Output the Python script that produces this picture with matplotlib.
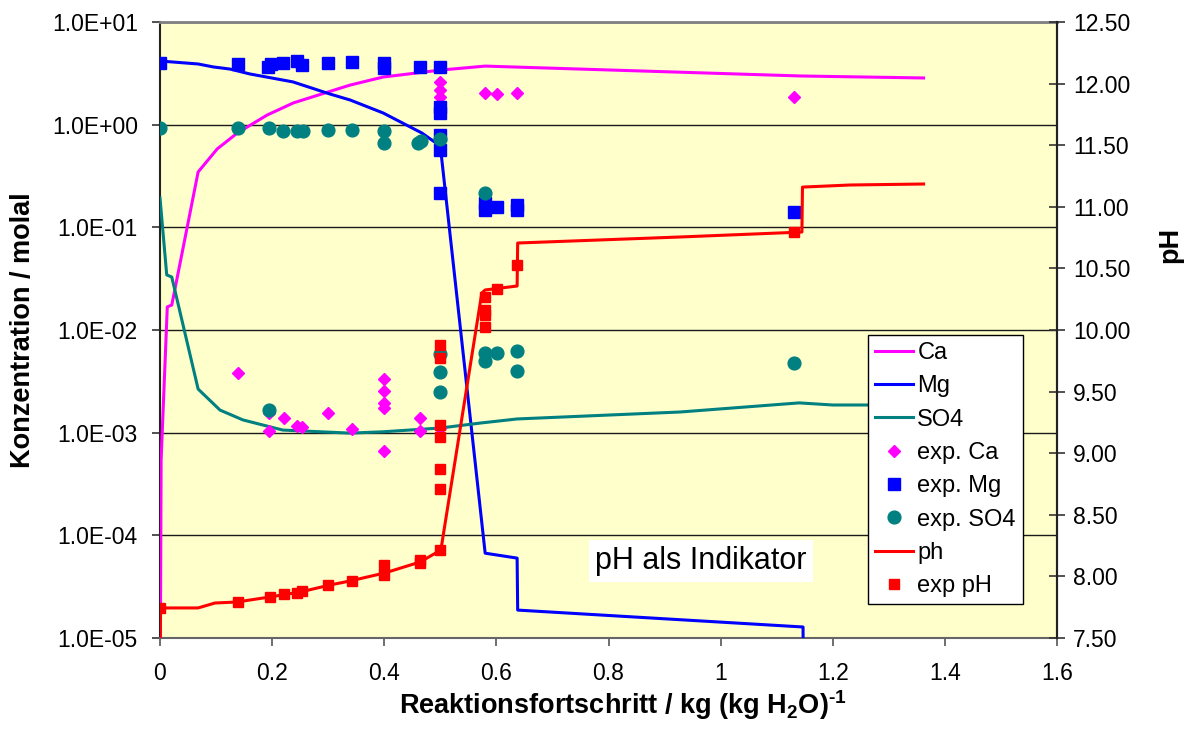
import matplotlib
matplotlib.use("Agg")
import matplotlib.pyplot as plt
from matplotlib.lines import Line2D
from matplotlib.ticker import FixedLocator, FuncFormatter, NullLocator

plt.rcParams["font.family"] = ["Liberation Sans", "DejaVu Sans"]
# math text (sub/superscripts in the x label) in bold Liberation Sans
plt.rcParams["mathtext.fontset"] = "custom"
plt.rcParams["mathtext.rm"] = "Liberation Sans:bold"
plt.rcParams["mathtext.bf"] = "Liberation Sans:bold"
plt.rcParams["mathtext.it"] = "Liberation Sans:bold:italic"

# --- model curves (concentration in mol/kg, left axis) ---
ca_x = [0.0, 0.002, 0.013, 0.021, 0.068, 0.102, 0.138, 0.191, 0.238, 0.339, 0.398, 0.50, 0.58, 1.143, 1.362]
ca_y = [1e-6, 5.4e-4, 0.0168, 0.0175, 0.346, 0.58, 0.83, 1.24, 1.63, 2.43, 2.91, 3.4, 3.72, 2.98, 2.85]

mg_x = [0.0, 0.068, 0.095, 0.125, 0.16, 0.237, 0.303, 0.339, 0.398, 0.467, 0.50, 0.58, 0.637, 0.638, 1.147, 1.148]
mg_y = [4.17, 3.90, 3.65, 3.48, 3.12, 2.61, 1.99, 1.74, 1.30, 0.83, 0.62, 6.7e-5, 6.0e-5, 1.87e-5, 1.28e-5, 1e-6]

so4_x = [0.0, 0.012, 0.021, 0.068, 0.107, 0.148, 0.219, 0.339, 0.398, 0.50, 0.571, 0.637, 0.928, 1.14, 1.20, 1.362]
so4_y = [0.193, 0.0344, 0.0328, 0.00266, 0.00166, 0.00133, 0.00106, 0.00099, 0.00102, 0.00111,
         0.00124, 0.00136, 0.00159, 0.00195, 0.00186, 0.00186]

# --- model pH (right axis) ---
ph_x = [0.0, 0.001, 0.068, 0.098, 0.137, 0.196, 0.25, 0.303, 0.339, 0.401, 0.464, 0.501,
        0.574, 0.58, 0.637, 0.638, 0.928, 1.145, 1.146, 1.231, 1.362]
ph_y = [7.3, 7.744, 7.744, 7.784, 7.792, 7.833, 7.873, 7.930, 7.963, 8.028, 8.117, 8.214,
        10.30, 10.325, 10.357, 10.706, 10.755, 10.795, 11.16, 11.177, 11.185]

# --- measurements ---
exp_ca_x = [0.139, 0.194, 0.194, 0.221, 0.244, 0.253, 0.30, 0.343, 0.40, 0.40, 0.40, 0.40, 0.40,
            0.464, 0.464, 0.50, 0.50, 0.50, 0.50, 0.58, 0.601, 0.637, 1.131]
exp_ca_y = [0.00381, 0.00156, 0.00104, 0.00139, 0.00116, 0.00114, 0.00156, 0.00109, 0.00333,
            0.00255, 0.00195, 0.00174, 0.000664, 0.00139, 0.00104, 0.00111, 2.61, 2.18, 1.86,
            2.03, 1.99, 2.03, 1.86]

exp_mg_x = [0.0, 0.139, 0.193, 0.198, 0.219, 0.244, 0.253, 0.30, 0.343, 0.40, 0.40, 0.464,
            0.50, 0.50, 0.50, 0.50, 0.50, 0.50, 0.58, 0.58, 0.601, 0.637, 0.637, 1.131]
exp_mg_y = [3.99, 3.90, 3.65, 3.90, 3.99, 4.17, 3.81, 4.0, 4.07, 4.0, 3.56, 3.65,
            3.65, 1.49, 1.30, 0.79, 0.567, 0.216, 0.172, 0.147, 0.158, 0.165, 0.147, 0.141]

exp_so4_x = [0.0, 0.139, 0.194, 0.219, 0.244, 0.255, 0.30, 0.343, 0.40, 0.40, 0.46, 0.466,
             0.50, 0.58, 0.194, 0.50, 0.50, 0.50, 0.58, 0.58, 0.601, 0.637, 0.637, 1.131]
exp_so4_y = [0.93, 0.93, 0.93, 0.867, 0.867, 0.867, 0.887, 0.887, 0.867, 0.663, 0.663, 0.694,
             0.725, 0.216, 0.00166, 0.00583, 0.0039, 0.00249, 0.00597, 0.00499, 0.00597,
             0.00625, 0.00399, 0.00478]

exp_ph_x = [0.0, 0.139, 0.196, 0.221, 0.244, 0.253, 0.30, 0.343, 0.40, 0.40, 0.464, 0.464,
            0.50, 0.50, 0.50, 0.50, 0.50, 0.50, 0.50, 0.58, 0.58, 0.58, 0.58, 0.601, 0.637, 1.131]
exp_ph_y = [7.744, 7.792, 7.833, 7.857, 7.865, 7.881, 7.930, 7.963, 8.093, 8.011, 8.109, 8.133,
            8.214, 8.709, 8.872, 9.131, 9.229, 9.773, 9.878, 10.024, 10.122, 10.162, 10.268,
            10.333, 10.528, 10.795]

x_ticks = [0, 0.2, 0.4, 0.6, 0.8, 1.0, 1.2, 1.4, 1.6]
conc_ticks = [1e-5, 1e-4, 1e-3, 1e-2, 1e-1, 1e0, 1e1]
ph_ticks = [7.5, 8.0, 8.5, 9.0, 9.5, 10.0, 10.5, 11.0, 11.5, 12.0, 12.5]

C_CA = "#FF00FF"
C_MG = "#0000FF"
C_SO4 = "#008080"
C_PH = "#FF0000"
LW = 2.2
FS_TICK = 16.5
FS_LABEL = 19.5

fig = plt.figure(figsize=(12.01, 7.36), dpi=100)
ax = fig.add_axes([160 / 1201, 1 - 638 / 736, (1057 - 160) / 1201, (638 - 22) / 736])
ax.set_facecolor("#FFFFCC")
ax.set_yscale("log")
ax.set_xlim(0, 1.6)
ax.set_ylim(1e-5, 1e1)

ax.plot(ca_x, ca_y, color=C_CA, lw=LW, label="Ca", zorder=3)
ax.plot(mg_x, mg_y, color=C_MG, lw=LW, label="Mg", zorder=3)
ax.plot(so4_x, so4_y, color=C_SO4, lw=LW, label="SO4", zorder=3)
ax.plot(exp_ca_x, exp_ca_y, ls="none", marker="D", ms=6.6, color=C_CA, mec=C_CA, label="exp. Ca", zorder=4)
ax.plot(exp_mg_x, exp_mg_y, ls="none", marker="s", ms=8.8, color=C_MG, mec=C_MG, label="exp. Mg", zorder=4)
ax.plot(exp_so4_x, exp_so4_y, ls="none", marker="o", ms=9.2, color=C_SO4, mec=C_SO4, label="exp. SO4", zorder=5)

ax.yaxis.set_major_locator(FixedLocator(conc_ticks))
ax.yaxis.set_minor_locator(NullLocator())
ax.yaxis.set_major_formatter(FuncFormatter(lambda v, p: f"{v:.1E}"))
ax.xaxis.set_major_locator(FixedLocator(x_ticks))
ax.xaxis.set_major_formatter(FuncFormatter(lambda v, p: f"{v:g}"))
ax.grid(True, axis="y", color="#1a1a1a", lw=1.0, zorder=1)
ax.set_axisbelow(True)

ax.tick_params(axis="y", which="major", direction="out", length=6, width=1.2,
               color="#333333", labelsize=FS_TICK, pad=10)
ax.tick_params(axis="x", which="major", direction="out", length=6, width=1.2,
               color="#555555", labelsize=FS_TICK, pad=11)

for side, col, lw in [("top", "#808080", 2.0), ("bottom", "#666666", 1.5),
                      ("left", "#222222", 1.5), ("right", "#222222", 1.5)]:
    ax.spines[side].set_color(col)
    ax.spines[side].set_linewidth(lw)

ax.set_ylabel("Konzentration / molal", fontsize=FS_LABEL, fontweight="bold", va="center")
ax.yaxis.set_label_coords(-0.153, 0.5)
ax.set_xlabel(r"Reaktionsfortschritt / kg (kg H$_\mathregular{2}$O)$^{\text{-1}}$",
              fontsize=FS_LABEL, fontweight="bold", va="center")
ax.xaxis.set_label_coords(0.516, -0.109)

# pH on the secondary axis
ax2 = ax.twinx()
ax2.set_ylim(7.5, 12.5)
ax2.plot(ph_x, ph_y, color=C_PH, lw=LW, label="ph", zorder=3)
ax2.plot(exp_ph_x, exp_ph_y, ls="none", marker="s", ms=6.6, color=C_PH, mec=C_PH, label="exp pH", zorder=4)
ax2.yaxis.set_major_locator(FixedLocator(ph_ticks))
ax2.yaxis.set_major_formatter(FuncFormatter(lambda v, p: f"{v:.2f}"))
ax2.tick_params(axis="y", direction="inout", length=11, width=1.2, color="#333333",
                labelsize=FS_TICK, pad=6)
for side in ["top", "bottom", "left"]:
    ax2.spines[side].set_visible(False)
ax2.spines["right"].set_color("#222222")
ax2.spines["right"].set_linewidth(1.5)
ax2.set_ylabel("pH", fontsize=FS_LABEL, fontweight="bold", va="center", rotation=90)
ax2.yaxis.set_label_coords(1.126, 0.638)

ax2.text(0.603, 0.125, "pH als Indikator", transform=ax2.transAxes, fontsize=22,
         ha="center", va="center", zorder=6,
         bbox=dict(boxstyle="square,pad=0.2", fc="white", ec="none"))

handles = [
    Line2D([], [], color=C_CA, lw=LW),
    Line2D([], [], color=C_MG, lw=LW),
    Line2D([], [], color=C_SO4, lw=LW),
    Line2D([], [], ls="none", marker="D", ms=6.6, color=C_CA),
    Line2D([], [], ls="none", marker="s", ms=8.8, color=C_MG),
    Line2D([], [], ls="none", marker="o", ms=9.2, color=C_SO4),
    Line2D([], [], color=C_PH, lw=LW),
    Line2D([], [], ls="none", marker="s", ms=6.6, color=C_PH),
]
labels = ["Ca", "Mg", "SO4", "exp. Ca", "exp. Mg", "exp. SO4", "ph", "exp pH"]
leg = ax2.legend(handles, labels, loc="upper left", bbox_to_anchor=(0.789, 0.492),
                 borderaxespad=0, fontsize=17, frameon=True, fancybox=False,
                 framealpha=1, edgecolor="black", handlelength=1.6, handletextpad=0.2,
                 labelspacing=0.48, borderpad=0.3)
leg.get_frame().set_linewidth(1.0)
leg.set_zorder(10)

fig.savefig("out.png", dpi=100, facecolor="white")
